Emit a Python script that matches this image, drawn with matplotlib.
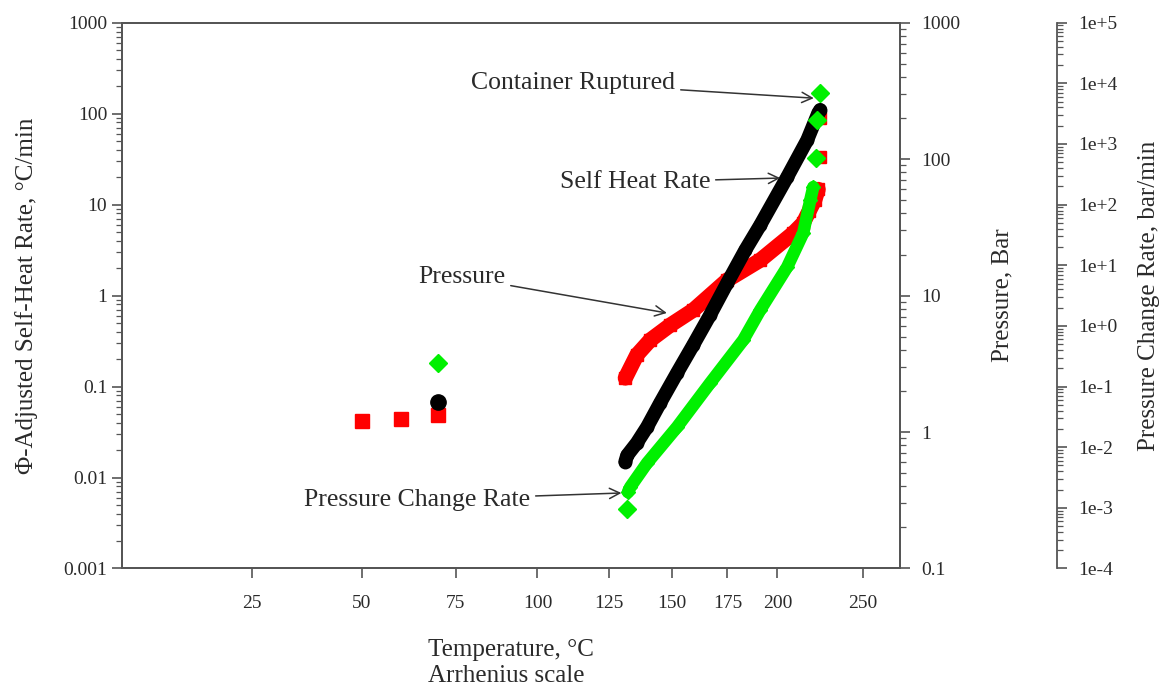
import numpy as np
import matplotlib.pyplot as plt
from matplotlib.ticker import FixedLocator, NullLocator, LogLocator

plt.rcParams['font.family'] = ['Liberation Serif', 'DejaVu Serif']

# ---- data ----
# early (low temperature) points
early_T = [50, 60, 70]
early_pressure = [1.20, 1.25, 1.33]          # bar
early_heat_T = [70]
early_heat = [0.068]                          # degC/min
early_dpdt_T = [70]
early_dpdt = [0.244]                          # bar/min

# self heat rate (black)
heat_T = [131.3, 132.0, 135.8, 139.9, 145.2, 152.3, 159.3, 166.9, 174.9, 183.6, 191.1, 205.2, 216.3, 222.6, 223.7]
heat_rate = [0.0150, 0.0175, 0.024, 0.036, 0.066, 0.141, 0.286, 0.612, 1.38, 3.17, 5.97, 20.1, 51.4, 101.7, 110]

# pressure (red)
press_T = [131.3, 135.8, 141.2, 149.5, 159.4, 174.9, 191.1, 208.5, 214.0, 217.5, 220.5, 222.5]
pressure = [2.49, 3.67, 4.73, 6.09, 7.84, 13.0, 18.2, 28.7, 34.0, 42.0, 50.0, 60.0]
press_tail_T = [223.7, 223.7]
press_tail = [104, 200]

# pressure change rate (green)
dpdt_first_T = [131.8]
dpdt_first = [0.00095]
dpdt_T = [132.3, 133.2, 139.9, 152.3, 166.9, 182.6, 191.1, 205.2, 214.0, 218.0, 219.7]
dpdt = [0.00182, 0.0022, 0.0055, 0.0215, 0.114, 0.585, 1.83, 9.36, 34, 119, 195]
dpdt_top_T = [221.0, 222.0, 223.7]
dpdt_top = [587, 2480, 6930]

xticks = [25, 50, 75, 100, 125, 150, 175, 200, 250]

RED = '#ff0000'
GREEN = '#00f000'
BLACK = '#000000'
TXT = '#2a2a2a'


def fwd(t):
    return -1.0 / (np.asarray(t, dtype=float) + 273.15)


def inv(u):
    with np.errstate(divide='ignore'):
        return -1.0 / np.asarray(u, dtype=float) - 273.15


fig = plt.figure(figsize=(11.67, 6.88), dpi=100)
ax = fig.add_axes([0.1043, 0.1737, 0.6669, 0.7933])
ax_p = ax.twinx()
ax_r = ax.twinx()
ax_r.spines['right'].set_position(('axes', 1.2017))
for s in ['top', 'left', 'bottom']:
    ax_r.spines[s].set_visible(False)

ax.set_xscale('function', functions=(fwd, inv))
ax.set_xlim(0, 275)
ax.set_xticks(xticks)
ax.set_xticklabels([str(t) for t in xticks])
ax.xaxis.set_minor_locator(NullLocator())

ax.set_yscale('log')
ax.set_ylim(0.001, 1000)
ax_p.set_yscale('log')
ax_p.set_ylim(0.1, 1000)
ax_r.set_yscale('log')
ax_r.set_ylim(1e-4, 1e5)

left_ticks = [0.001, 0.01, 0.1, 1, 10, 100, 1000]
ax.yaxis.set_major_locator(FixedLocator(left_ticks))
ax.set_yticklabels(['0.001', '0.01', '0.1', '1', '10', '100', '1000'])
p_ticks = [0.1, 1, 10, 100, 1000]
ax_p.yaxis.set_major_locator(FixedLocator(p_ticks))
ax_p.set_yticklabels(['0.1', '1', '10', '100', '1000'])
r_exp = list(range(-4, 6))
ax_r.yaxis.set_major_locator(FixedLocator([10.0 ** e for e in r_exp]))
ax_r.set_yticklabels(['1e%+d' % e for e in r_exp])
for a in (ax, ax_p, ax_r):
    a.yaxis.set_minor_locator(LogLocator(base=10, subs=np.arange(2, 10), numticks=20))

for a in (ax, ax_p, ax_r):
    for s in a.spines.values():
        s.set_color('#555555')
        s.set_linewidth(1.3)
    a.tick_params(which='major', length=7, width=1.2, color='#555555', labelsize=14, labelcolor=TXT)
    a.tick_params(which='minor', length=4, width=0.9, color='#555555')
ax.tick_params(axis='x', pad=12)
ax_p.tick_params(axis='y', pad=8)
ax_r.tick_params(axis='y', pad=8)

# pressure (red)
ax_p.plot(press_T, pressure, color=RED, lw=11, solid_capstyle='round', zorder=2)
ax_p.plot(press_T, pressure, 's', color=RED, ms=8, zorder=2)
ax_p.plot(press_tail_T, press_tail, 's', color=RED, ms=9, ls='none', zorder=2)
ax_p.plot(early_T, early_pressure, 's', color=RED, ms=10, ls='none', zorder=2)

# self heat rate (black)
ax.plot(heat_T, heat_rate, color=BLACK, lw=10, solid_capstyle='round', zorder=3)
ax.plot(heat_T, heat_rate, 'o', color=BLACK, ms=9, zorder=3)
ax.plot(early_heat_T, early_heat, 'o', color=BLACK, ms=11, ls='none', zorder=3)
ax.set_zorder(ax_p.get_zorder() + 1)
ax.patch.set_visible(False)

# pressure change rate (green)
ax_r.plot(dpdt_T, dpdt, color=GREEN, lw=9, solid_capstyle='round', zorder=4)
ax_r.plot(dpdt_T, dpdt, 'D', color=GREEN, ms=7, zorder=4)
ax_r.plot(dpdt_first_T + dpdt_top_T, dpdt_first + dpdt_top, 'D', color=GREEN, ms=9, ls='none', zorder=4)
ax_r.plot(early_dpdt_T, early_dpdt, 'D', color=GREEN, ms=9, ls='none', zorder=4)
ax_r.set_zorder(ax.get_zorder() + 1)

# axis labels
ax.set_ylabel('\u03a6-Adjusted Self-Heat Rate, \u00b0C/min', fontsize=18, color=TXT)
ax.yaxis.set_label_coords(-0.108, 0.5)
ax_p.set_ylabel('Pressure, Bar', fontsize=18, color=TXT)
ax_p.yaxis.set_label_coords(1.118, 0.5)
ax_r.set_ylabel('Pressure Change Rate, bar/min', fontsize=18, color=TXT)
ax_r.yaxis.set_label_coords(1.306, 0.5)
ax.set_xlabel('Temperature, \u00b0C\nArrhenius scale', fontsize=18, color=TXT,
              multialignment='left', linespacing=1.2)
ax.xaxis.set_label_coords(0.5, -0.13)

# annotations
arrow = dict(arrowstyle='->', color='#333333', lw=1.1, shrinkA=2, shrinkB=0)
ax.annotate('Container Ruptured', xy=(220.0, 148), xytext=(151.5, 217),
            ha='right', va='center', fontsize=18.5, color=TXT, arrowprops=arrow, zorder=6)
ax.annotate('Self Heat Rate', xy=(201.5, 19.6), xytext=(166.9, 17.7),
            ha='right', va='center', fontsize=18.5, color=TXT, arrowprops=arrow, zorder=6)
ax.annotate('Pressure', xy=(148.0, 0.644), xytext=(89.7, 1.6),
            ha='right', va='center', fontsize=18.5, color=TXT, arrowprops=arrow, zorder=6)
ax.annotate('Pressure Change Rate', xy=(129.8, 0.00676), xytext=(97.6, 0.00566),
            ha='right', va='center', fontsize=18.5, color=TXT, arrowprops=arrow, zorder=6)

fig.savefig('out.png', dpi=100)
